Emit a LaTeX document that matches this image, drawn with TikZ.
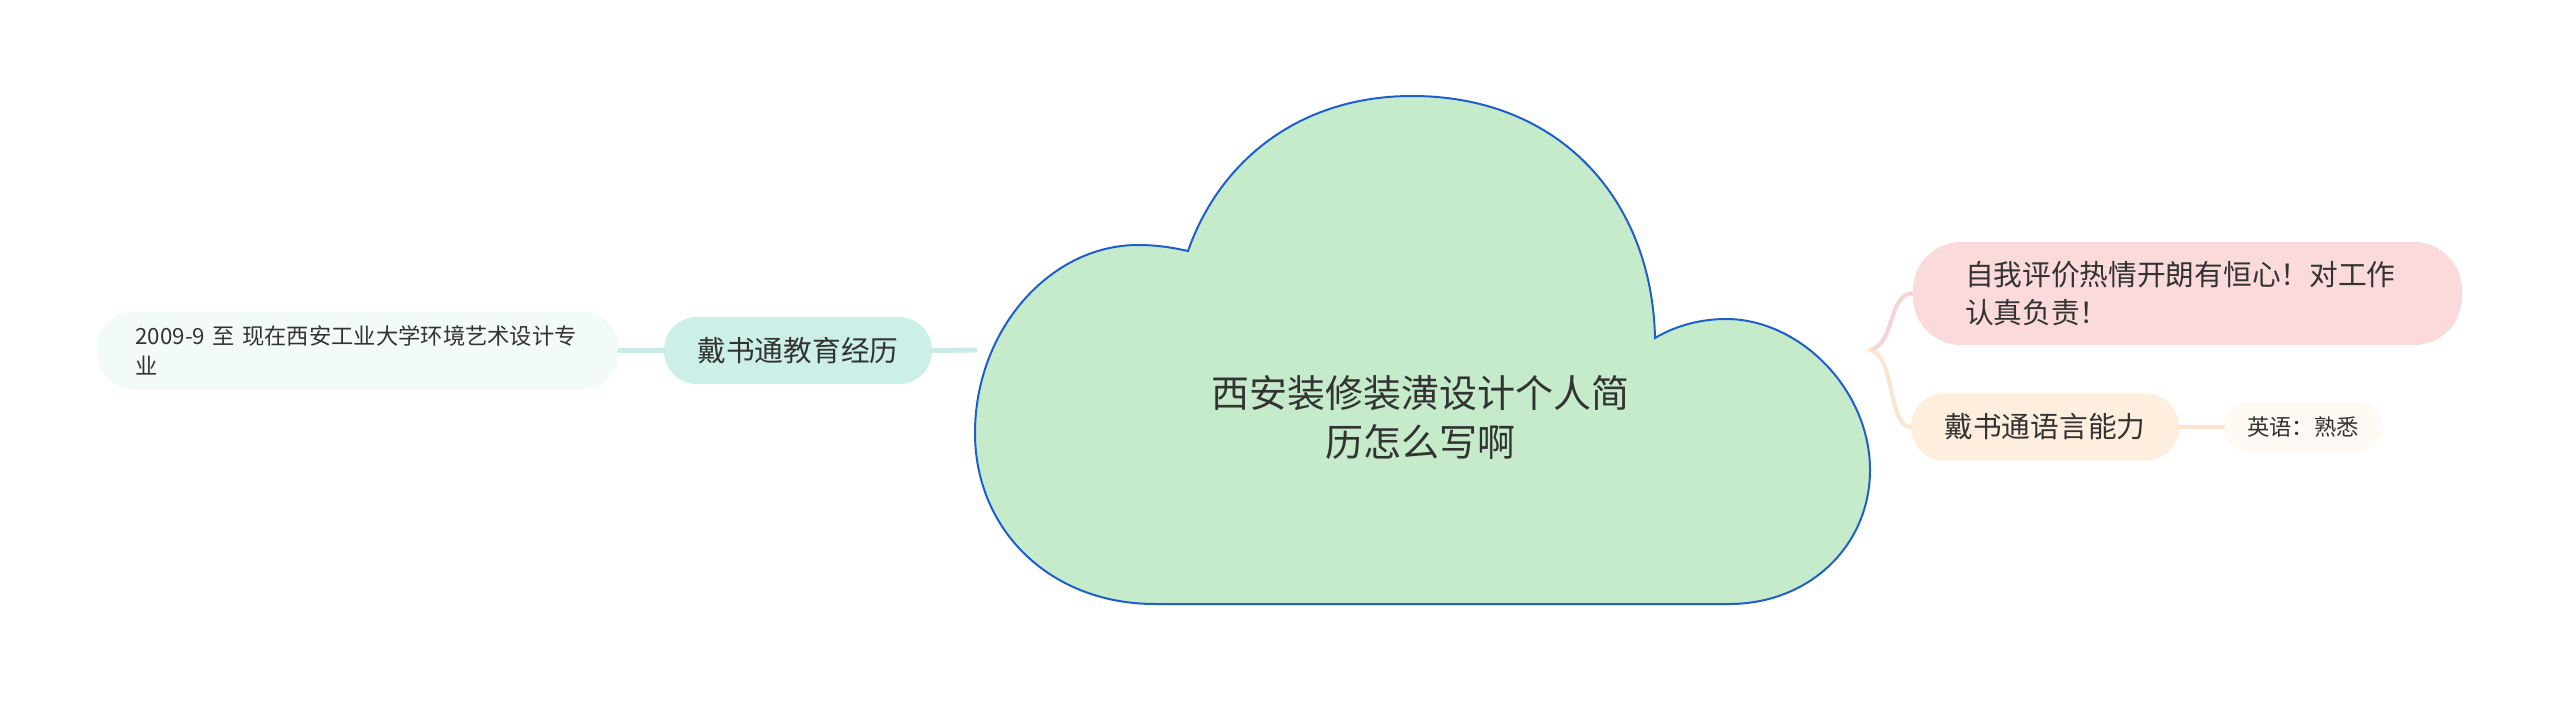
\documentclass[tikz,border=0pt]{standalone}
\usepackage{fontspec}
\setmainfont{Noto Sans CJK SC}
\usetikzlibrary{positioning}
\definecolor{cloudfill}{HTML}{C5EBCA}
\definecolor{cloudline}{HTML}{1F5FCC}
\definecolor{tealnode}{HTML}{CCEFE8}
\definecolor{tealpale}{HTML}{F3FBFA}
\definecolor{tealline}{HTML}{C8ECE5}
\definecolor{pinknode}{HTML}{FADADB}
\definecolor{pinkline}{HTML}{F7D3D5}
\definecolor{peachnode}{HTML}{FDEEDE}
\definecolor{peachpale}{HTML}{FEF9F3}
\definecolor{peachline}{HTML}{FBE4D0}
\definecolor{txt}{HTML}{333333}

\begin{document}
\begin{tikzpicture}[x=1pt,y=-1pt,
    topic/.style={text=txt, inner ysep=0pt, minimum height=67pt, minimum width=268pt,
      rounded corners=33pt, font=\fontsize{28.7}{38}\selectfont},
    leaf/.style={text=txt, inner ysep=0pt, rounded corners=24pt,
      font=\fontsize{22.3}{30}\selectfont},
    branch/.style={line width=4pt, line cap=round}]
  \useasboundingbox (0,0) rectangle (2560,701);
  \node [topic, fill=tealnode] (edu) at (798,350.5) {戴书通教育经历};
  \node [leaf, fill=tealpale, minimum height=78pt, text width=445pt, inner xsep=39pt,
    rounded corners=38pt, align=left, left=44pt of edu] (school)
    {2009-9 至 现在西安工业大学环境艺术设计专\\业};
  \node [topic, fill=pinknode, minimum height=103pt, minimum width=549pt, text width=445pt,
    inner xsep=52pt, rounded corners=48pt, align=left] (self) at (2187.5,293.5)
    {自我评价热情开朗有恒心！对工作\\认真负责！};
  \node [topic, fill=peachnode] (lang) at (2045,427) {戴书通语言能力};
  \node [leaf, fill=peachpale, minimum height=49pt, minimum width=159pt, right=44pt of lang]
    (english) {英语：熟悉};
  \coordinate (cloudW) at (975,350);
  \coordinate (fork) at (1870,350);
  \draw [branch, tealline, line width=5pt] (school.east) -- (edu.west);
  \draw [branch, tealline, line width=5pt] (edu.east) -- (cloudW);
  \draw [branch, peachline] (lang.east) -- (english.west);
  \draw [branch, pinkline] (fork) .. controls (1895,345) and (1888,293.5) .. (self.west);
  \draw [branch, peachline] (fork) .. controls (1895,355) and (1888,427) .. (lang.west);
  \draw [fill=cloudfill, draw=cloudline, line width=2pt, line join=miter]
    (1155,604) -- (1729,604)
    .. controls (1810,604) and (1870,545) .. (1870,470)
    .. controls (1870,390) and (1800,319) .. (1726,319)
    .. controls (1700,319) and (1675,326) .. (1655,338)
    .. controls (1652,200) and (1560,96) .. (1412,96)
    .. controls (1300,96) and (1220,160) .. (1188,251)
    .. controls (1170,247) and (1155,245) .. (1138,245)
    .. controls (1050,245) and (975,330) .. (975,433)
    .. controls (975,530) and (1050,604) .. (1155,604) -- cycle;
  \node [text=txt, align=center, font=\fontsize{38}{49}\selectfont] (title) at (1420,417)
    {西安装修装潢设计个人简\\历怎么写啊};
\end{tikzpicture}
\end{document}
